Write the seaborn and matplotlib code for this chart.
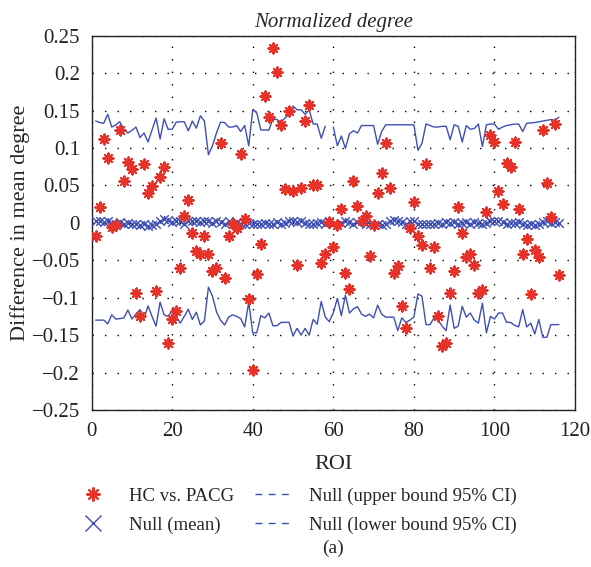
import numpy as np
import pandas as pd
import seaborn as sns
import matplotlib.pyplot as plt
from matplotlib.lines import Line2D

# difference in mean degree, HC vs. PACG, ROI 1..116
hc_vs_pacg = [
    -0.017, 0.021, 0.112, 0.087, -0.006, -0.003, 0.124, 0.056, 0.081, 0.072,
    -0.094, -0.124, 0.079, 0.040, 0.049, -0.091, 0.061, 0.075, -0.161, -0.128,
    -0.118, -0.061, 0.009, 0.031, -0.014, -0.038, -0.041, -0.018, -0.042, -0.064,
    -0.061, 0.106, -0.074, -0.017, -0.002, -0.007, 0.092, 0.005, -0.102, -0.197,
    -0.068, -0.028, 0.170, 0.141, 0.234, 0.201, 0.131, 0.045, 0.149, 0.042,
    -0.057, 0.046, 0.136, 0.158, 0.051, 0.051, -0.054, -0.042, 0.001, -0.032,
    -0.003, 0.019, -0.067, -0.088, 0.056, 0.023, 0.002, 0.009, -0.044, -0.003,
    0.040, 0.066, 0.106, 0.047, -0.067, -0.058, -0.111, -0.140, -0.007, 0.028,
    -0.018, -0.030, 0.079, -0.060, -0.032, -0.124, -0.164, -0.160, -0.094, -0.064,
    0.021, -0.014, -0.046, -0.042, -0.057, -0.094, -0.090, 0.015, 0.118, 0.108,
    0.043, 0.025, 0.080, 0.074, 0.108, 0.018, -0.042, -0.021, -0.095, -0.036,
    -0.046, 0.124, 0.053, 0.008, 0.132, -0.070,
]

null_mean = [
    0.002, 0.003, 0.001, 0.002, 0.000, -0.001, 0.001, -0.002, 0.000, -0.002,
    -0.001, -0.003, -0.002, -0.004, -0.003, -0.001, 0.002, 0.005, 0.004, 0.001,
    0.003, 0.002, -0.001, 0.003, 0.002, 0.003, 0.001, 0.002, 0.003, 0.000,
    0.002, 0.001, -0.001, 0.002, -0.002, 0.001, -0.001, -0.002, 0.000, -0.001,
    -0.002, -0.001, 0.000, -0.002, -0.001, 0.001, -0.001, 0.000, 0.002, 0.003,
    0.001, 0.002, 0.000, -0.001, -0.002, 0.000, 0.001, -0.002, 0.002, -0.001,
    -0.003, 0.000, 0.003, 0.001, -0.001, 0.001, 0.002, -0.001, -0.002, -0.003,
    -0.001, -0.003, -0.001, 0.002, 0.004, 0.003, 0.001, -0.001, 0.003, 0.002,
    -0.001, -0.002, -0.002, -0.001, -0.002, 0.000, -0.001, 0.001, 0.000, 0.001,
    -0.001, 0.000, 0.001, -0.001, 0.001, 0.000, -0.001, 0.000, 0.002, 0.003,
    0.002, 0.001, -0.001, 0.000, 0.000, 0.001, -0.002, -0.003, -0.002, -0.003,
    -0.002, 0.001, 0.002, 0.000, 0.001, 0.000,
]

null_upper = [
    0.136, 0.134, 0.133, 0.145, 0.128, 0.131, 0.135, 0.125, 0.120, 0.1235,
    0.128, 0.114, 0.120, 0.108, 0.124, 0.140, 0.112, 0.139, 0.125, 0.125,
    0.1345, 0.135, 0.135, 0.123, 0.136, 0.1265, 0.143, 0.136, 0.091, 0.103,
    0.120, 0.1345, 0.134, 0.128, 0.128, 0.130, 0.122, 0.130, 0.103, 0.151,
    0.147, 0.124, 0.124, 0.124, 0.1385, 0.138, 0.1345, 0.140, 0.145, 0.156,
    0.151, 0.151, 0.145, 0.151, 0.132, 0.132, 0.113, 0.129, np.nan, 0.128,
    0.103, 0.116, 0.0995, 0.119, 0.123, 0.120, 0.130, 0.130, 0.130, 0.130,
    0.105, 0.122, 0.131, 0.131, 0.131, 0.131, 0.131, 0.131, 0.131, 0.131,
    0.097, 0.106, 0.132, 0.130, 0.128, 0.128, 0.129, 0.129, 0.111, 0.131,
    0.129, 0.108, 0.130, 0.125, 0.126, 0.132, 0.102, 0.131, 0.132, 0.132,
    0.125, 0.128, 0.130, 0.131, 0.132, 0.132, 0.122, 0.133, 0.1335, 0.134,
    0.135, 0.136, 0.137, 0.138, 0.137, 0.141,
]

null_lower = [
    -0.130, -0.130, -0.130, -0.135, -0.123, -0.1285, -0.128, -0.127, -0.1165, -0.1285,
    -0.122, -0.116, -0.128, -0.111, -0.125, -0.138, -0.106, -0.123, -0.125, -0.117,
    -0.125, -0.134, -0.125, -0.1155, -0.129, -0.1195, -0.1365, -0.131, -0.086, -0.098,
    -0.119, -0.130, -0.1365, -0.126, -0.123, -0.125, -0.128, -0.139, -0.106, -0.147,
    -0.147, -0.124, -0.127, -0.1205, -0.1375, -0.1375, -0.133, -0.133, -0.133, -0.151,
    -0.141, -0.150, -0.141, -0.150, -0.129, -0.1355, -0.105, -0.126, -0.132, -0.120,
    -0.101, -0.124, -0.0965, -0.1205, -0.115, -0.112, -0.122, -0.125, -0.122, -0.127,
    -0.110, -0.122, -0.126, -0.126, -0.126, -0.144, -0.127, -0.133, -0.130, -0.126,
    -0.095, -0.098, -0.136, -0.136, -0.127, -0.130, -0.138, -0.144, -0.110, -0.141,
    -0.138, -0.1115, -0.126, -0.1205, -0.130, -0.134, -0.1075, -0.147, -0.125, -0.1285,
    -0.1205, -0.1205, -0.133, -0.133, -0.137, -0.139, -0.116, -0.139, -0.134, -0.1485,
    -0.129, -0.153, -0.153, -0.136, -0.136, -0.136,
]

x_ticks = [0, 20, 40, 60, 80, 100, 120]
y_ticks = [0.25, 0.2, 0.15, 0.1, 0.05, 0, -0.05, -0.1, -0.15, -0.2, -0.25]
y_tick_labels = ["0.25", "0.2", "0.15", "0.1", "0.05", "0",
                 "\u22120.05", "\u22120.1", "\u22120.15", "\u22120.2", "\u22120.25"]
legend_labels = ["HC vs. PACG", "Null (mean)",
                 "Null (upper bound 95% CI)", "Null (lower bound 95% CI)"]

red = "#e63228"
blue = "#3e4fb3"

roi = np.arange(1, len(hc_vs_pacg) + 1)
df = pd.DataFrame({"roi": roi, "hc": hc_vs_pacg, "mean": null_mean,
                   "upper": null_upper, "lower": null_lower})
# split the upper bound where it has gaps
df["seg"] = df["upper"].isna().cumsum()

sns.set_style("white")
plt.rcParams["font.family"] = ["Liberation Serif", "DejaVu Serif"]

fig = plt.figure(figsize=(5.91, 5.67), dpi=100)
ax = fig.add_axes([0.155, 0.277, 0.818, 0.66])

sns.lineplot(data=df.dropna(subset=["upper"]), x="roi", y="upper", units="seg",
             estimator=None, color=blue, lw=1.0, ax=ax)
sns.lineplot(data=df, x="roi", y="lower", estimator=None, color=blue, lw=1.0, ax=ax)
sns.scatterplot(data=df, x="roi", y="mean", marker="x", s=38, color=blue,
                linewidth=1.0, ax=ax, zorder=3)
sns.scatterplot(data=df, x="roi", y="hc", marker=(8, 2, 0), s=52, color=red,
                edgecolor=red, linewidth=1.5, ax=ax, zorder=4)

ax.set_xlim(0, 120)
ax.set_ylim(-0.25, 0.25)
ax.set_xticks(x_ticks)
ax.set_yticks(y_ticks)
ax.set_yticklabels(y_tick_labels)
ax.tick_params(direction="out", length=5, width=1, labelsize=15, colors="#222222")
ax.grid(True, color="black", linestyle=(0, (1, 8)), lw=1.0)
for s in ax.spines.values():
    s.set_color("#222222")
    s.set_linewidth(1.0)

ax.set_xlabel("ROI", fontsize=16, labelpad=10)
ax.set_ylabel("Difference in mean degree", fontsize=16, labelpad=1)
ax.set_title("Normalized degree", fontsize=15, style="italic", pad=6)

handles = [
    Line2D([], [], marker=(8, 2, 0), ls="none", color=red, markersize=10, mew=1.5),
    Line2D([], [], marker="x", ls="none", color=blue, markersize=11, mew=1.0),
    Line2D([], [], ls=(0, (5, 4.5)), color=blue, lw=1.0),
    Line2D([], [], ls=(0, (5, 4.5)), color=blue, lw=1.0),
]
fig.legend(handles, legend_labels, ncol=2, loc="upper left",
           bbox_to_anchor=(0.128, 0.14), frameon=False, fontsize=13.5,
           borderpad=0, borderaxespad=0,
           handlelength=1.87, handletextpad=1.0, columnspacing=1.1,
           labelspacing=0.62)
fig.text(0.563, 0.033, "(a)", fontsize=14, ha="center", va="center")

fig.savefig("out.png", dpi=100)
